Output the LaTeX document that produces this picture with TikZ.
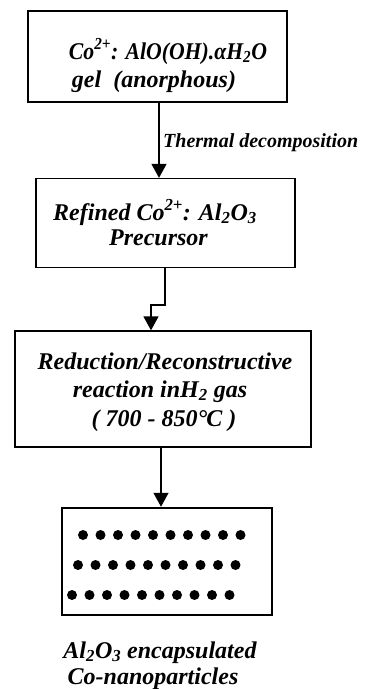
\documentclass[tikz,border=0pt]{standalone}
\usepackage{fontspec}
\usepackage{graphicx}
\setmainfont{Liberation Serif}
\usetikzlibrary{arrows.meta}
\begin{document}
\begin{tikzpicture}[x=1pt,y=-1pt,
  box/.style={draw=black,line width=1.3pt,inner sep=0pt},
  txt/.style={font=\fontsize{24}{28}\selectfont\bfseries\itshape,inner sep=0pt,anchor=base},
  lbl/.style={font=\fontsize{20}{24}\selectfont\bfseries\itshape,inner sep=0pt,anchor=base west},
  conn/.style={line width=1.5pt,-{Triangle[length=14pt,width=15pt]}},
  dot/.style={circle,fill=black,inner sep=0pt,minimum size=10pt}]
\useasboundingbox (0,0) rectangle (369,689);
% boxes
\node[box,minimum width=259pt,minimum height=91pt] (b1) at (157.5,56.5) {};
\node[box,minimum width=259pt,minimum height=89pt] (b2) at (165.5,223) {};
\node[box,minimum width=296pt,minimum height=116pt] (b3) at (163,389) {};
\node[draw=black,line width=2.5pt,inner sep=0pt,minimum width=210pt,minimum height=107pt] (b4) at (167,561.5) {};
% texts
\node[txt] (t11) at (168,59) {\resizebox{198pt}{\height}{Co\textsuperscript{2+}: AlO(OH).αH\textsubscript{2}O}};
\node[txt] (t12) at (154,87) {gel\ \ (anorphous)};
\node[txt] (t21) at (155,220) {Refined Co\textsuperscript{2+}: Al\textsubscript{2}O\textsubscript{3}};
\node[txt] (t22) at (158.5,245) {Precursor};
\node[txt] (t31) at (165,369) {Reduction/Reconstructive};
\node[txt] (t32) at (160,397) {reaction inH\textsubscript{2} gas};
\node[txt] (t33) at (164,426) {( 700 - 850°\kern-1ptC )};
\node[txt] (c1) at (160,658) {Al\textsubscript{2}O\textsubscript{3} encapsulated};
\node[txt] (c2) at (153,684) {Co-nanoparticles};
% dots
\foreach \i in {0,...,9} {
  \node[dot] (d1\i) at (83+17.5*\i,535) {};
  \node[dot] (d2\i) at (78+17.5*\i,565) {};
  \node[dot] (d3\i) at (72+17.5*\i,595) {};
}
% connectors
\draw[conn] (b1.south -| 159,0) -- (b2.north -| 159,0);
\node[lbl] (label) at (163,147) {Thermal decomposition};
\coordinate (a2) at (165,267.5);
\coordinate (m2) at (165,305);
\coordinate (n2) at (151,305);
\draw[conn] (a2) -- (m2) -- (n2) -- (n2 |- b3.north);
\draw[conn] (b3.south -| 161,0) -- (b4.north -| 161,0);
\end{tikzpicture}
\end{document}
